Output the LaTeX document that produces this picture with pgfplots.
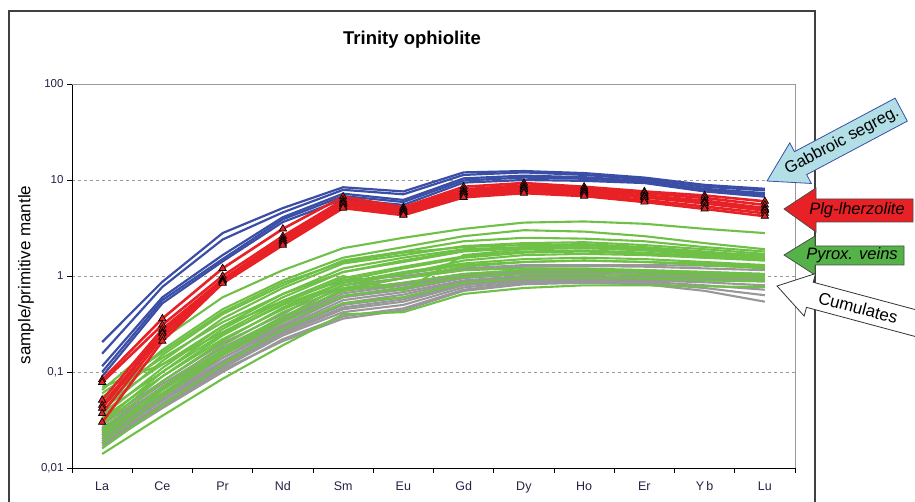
\documentclass[border=0pt]{standalone}
\usepackage{pgfplots}
\pgfplotsset{compat=1.18}
\usepackage{fontspec}
\setmainfont{Liberation Sans}
\definecolor{reeblue}{RGB}{58,78,166}
\definecolor{reered}{RGB}{232,33,38}
\definecolor{reegreen}{RGB}{110,192,70}
\definecolor{reegray}{RGB}{152,152,152}
\definecolor{lblue}{RGB}{178,222,230}
\definecolor{ticktext}{RGB}{35,35,70}
\definecolor{arrgreen}{RGB}{84,178,72}
\begin{document}
\begin{tikzpicture}
\path[use as bounding box] (0pt,0pt) rectangle (915pt,-502pt);
\draw[black!75, line width=1.1pt] (9pt,-11pt) rectangle (815pt,-530pt);
\node[font=\fontsize{18.5}{22}\selectfont\bfseries] at (412pt,-40pt) {Trinity ophiolite};
\node[rotate=90, font=\fontsize{17}{20}\selectfont] at (26pt,-275pt) {sample/primitive mantle};
\begin{axis}[at={(72pt,-84pt)}, anchor=north west, scale only axis,
  width=723pt, height=384pt,
  ymode=log, ymin=0.01, ymax=100, xmin=-0.5, xmax=11.5,
  axis x line*=bottom, axis y line*=left,
  axis line style={black, line width=0.8pt},
  tick align=outside,
  xtick={0,...,11},
  xticklabels={La,Ce,Pr,Nd,Sm,Eu,Gd,Dy,Ho,Er,Y\,b,Lu},
  major x tick style={draw=none},
  minor xtick={-0.5,0.5,...,11.5},
  minor tick length=5pt, major tick length=5pt,
  minor x tick style={black, line width=0.8pt},
  major y tick style={black, line width=0.8pt},
  ytick={0.01,0.1,1,10,100},
  yticklabels={{0,01},{0,1},1,10,100},
  yminorticks=false,
  ymajorgrids, major grid style={gray!80, dash pattern=on 3pt off 3pt, line width=0.8pt},
  xticklabel style={font=\fontsize{12.5}{14}\selectfont, text=ticktext, yshift=-5pt},
  yticklabel style={font=\fontsize{11.5}{13}\selectfont, text=ticktext},
  clip=false,
  gl/.style={reegreen, line width=2.1pt, no marks},
  cl/.style={reegray, line width=2.1pt, no marks},
  bl/.style={reeblue, line width=2.2pt, no marks},
  rl/.style={reered, line width=2.6pt, mark=triangle*, mark size=4.2pt,
     mark options={fill=reered, draw=black, line width=0.7pt, solid}},
]
% cumulates (gray)
\addplot[cl] coordinates {(0,0.030)(1,0.080)(2,0.20)(3,0.40)(4,0.90)(5,1.00)(6,1.20)(7,1.30)(8,1.30)(9,1.30)(10,1.28)(11,1.24)};
\addplot[cl] coordinates {(0,0.028)(1,0.075)(2,0.18)(3,0.37)(4,0.80)(5,0.95)(6,1.15)(7,1.25)(8,1.27)(9,1.25)(10,1.20)(11,1.15)};
\addplot[cl] coordinates {(0,0.026)(1,0.070)(2,0.17)(3,0.35)(4,0.72)(5,0.85)(6,1.05)(7,1.15)(8,1.17)(9,1.15)(10,1.10)(11,1.05)};
\addplot[cl] coordinates {(0,0.025)(1,0.065)(2,0.16)(3,0.33)(4,0.66)(5,0.80)(6,1.00)(7,1.10)(8,1.10)(9,1.08)(10,1.02)(11,0.98)};
\addplot[cl] coordinates {(0,0.024)(1,0.060)(2,0.15)(3,0.31)(4,0.60)(5,0.72)(6,0.95)(7,1.05)(8,1.05)(9,1.03)(10,0.98)(11,0.95)};
\addplot[cl] coordinates {(0,0.023)(1,0.058)(2,0.14)(3,0.29)(4,0.56)(5,0.68)(6,0.90)(7,1.00)(8,1.00)(9,0.98)(10,0.95)(11,0.92)};
\addplot[cl] coordinates {(0,0.022)(1,0.055)(2,0.13)(3,0.28)(4,0.52)(5,0.64)(6,0.88)(7,0.97)(8,0.98)(9,0.96)(10,0.93)(11,0.90)};
\addplot[cl] coordinates {(0,0.021)(1,0.052)(2,0.125)(3,0.27)(4,0.50)(5,0.60)(6,0.85)(7,0.95)(8,0.96)(9,0.95)(10,0.92)(11,0.89)};
\addplot[cl] coordinates {(0,0.020)(1,0.050)(2,0.12)(3,0.26)(4,0.47)(5,0.57)(6,0.82)(7,0.92)(8,0.93)(9,0.92)(10,0.90)(11,0.88)};
\addplot[cl] coordinates {(0,0.019)(1,0.047)(2,0.115)(3,0.25)(4,0.45)(5,0.54)(6,0.80)(7,0.90)(8,0.92)(9,0.90)(10,0.86)(11,0.80)};
\addplot[cl] coordinates {(0,0.018)(1,0.045)(2,0.11)(3,0.24)(4,0.42)(5,0.50)(6,0.76)(7,0.87)(8,0.89)(9,0.87)(10,0.80)(11,0.72)};
\addplot[cl] coordinates {(0,0.017)(1,0.042)(2,0.10)(3,0.22)(4,0.38)(5,0.46)(6,0.72)(7,0.84)(8,0.86)(9,0.84)(10,0.75)(11,0.63)};
\addplot[cl] coordinates {(0,0.018)(1,0.043)(2,0.105)(3,0.21)(4,0.36)(5,0.44)(6,0.70)(7,0.82)(8,0.85)(9,0.82)(10,0.70)(11,0.54)};
\addplot[cl] coordinates {(0,0.026)(1,0.068)(2,0.16)(3,0.34)(4,0.70)(5,0.82)(6,1.02)(7,1.12)(8,1.14)(9,1.12)(10,1.06)(11,1.00)};
\addplot[cl] coordinates {(0,0.022)(1,0.056)(2,0.14)(3,0.30)(4,0.62)(5,0.76)(6,0.98)(7,1.08)(8,1.10)(9,1.08)(10,1.03)(11,0.99)};
% pyroxenite veins (green)
\addplot[gl] coordinates {(0,0.065)(1,0.22)(2,0.60)(3,1.15)(4,1.95)(5,2.5)(6,3.1)(7,3.6)(8,3.7)(9,3.5)(10,3.1)(11,2.8)};
\addplot[gl] coordinates {(0,0.050)(1,0.17)(2,0.45)(3,0.90)(4,1.55)(5,2.0)(6,2.6)(7,3.0)(8,2.9)(9,2.6)(10,2.2)(11,1.9)};
\addplot[gl] coordinates {(0,0.045)(1,0.15)(2,0.40)(3,0.80)(4,1.45)(5,1.8)(6,2.3)(7,2.5)(8,2.45)(9,2.3)(10,2.0)(11,1.8)};
\addplot[gl] coordinates {(0,0.040)(1,0.13)(2,0.36)(3,0.75)(4,1.35)(5,1.65)(6,2.05)(7,2.2)(8,2.25)(9,2.1)(10,1.9)(11,1.7)};
\addplot[gl] coordinates {(0,0.060)(1,0.16)(2,0.42)(3,0.85)(4,1.40)(5,1.75)(6,2.0)(7,2.1)(8,2.15)(9,2.0)(10,1.8)(11,1.6)};
\addplot[gl] coordinates {(0,0.035)(1,0.11)(2,0.30)(3,0.65)(4,1.20)(5,1.55)(6,1.9)(7,2.0)(8,2.1)(9,1.95)(10,1.75)(11,1.55)};
\addplot[gl] coordinates {(0,0.030)(1,0.10)(2,0.28)(3,0.60)(4,1.10)(5,1.45)(6,1.85)(7,1.95)(8,2.0)(9,1.85)(10,1.65)(11,1.5)};
\addplot[gl] coordinates {(0,0.070)(1,0.12)(2,0.26)(3,0.55)(4,1.00)(5,0.70)(6,1.65)(7,1.9)(8,1.95)(9,1.85)(10,1.7)(11,1.6)};
\addplot[gl] coordinates {(0,0.028)(1,0.09)(2,0.24)(3,0.52)(4,0.95)(5,1.25)(6,1.6)(7,1.8)(8,1.85)(9,1.75)(10,1.6)(11,1.45)};
\addplot[gl] coordinates {(0,0.055)(1,0.14)(2,0.33)(3,0.65)(4,1.10)(5,1.4)(6,1.8)(7,1.95)(8,2.0)(9,1.9)(10,1.75)(11,1.65)};
\addplot[gl] coordinates {(0,0.033)(1,0.09)(2,0.22)(3,0.45)(4,0.80)(5,1.05)(6,1.45)(7,1.65)(8,1.7)(9,1.65)(10,1.55)(11,1.5)};
\addplot[gl] coordinates {(0,0.025)(1,0.08)(2,0.21)(3,0.47)(4,0.85)(5,1.1)(6,1.35)(7,1.5)(8,1.55)(9,1.5)(10,1.4)(11,1.3)};
\addplot[gl] coordinates {(0,0.022)(1,0.07)(2,0.19)(3,0.42)(4,0.75)(5,0.95)(6,1.15)(7,1.2)(8,1.2)(9,1.15)(10,1.1)(11,1.05)};
\addplot[gl] coordinates {(0,0.020)(1,0.065)(2,0.17)(3,0.38)(4,0.70)(5,0.85)(6,1.05)(7,1.15)(8,1.15)(9,1.1)(10,1.05)(11,1.0)};
\addplot[gl] coordinates {(0,0.018)(1,0.055)(2,0.15)(3,0.33)(4,0.62)(5,0.75)(6,0.98)(7,1.05)(8,1.05)(9,1.02)(10,0.98)(11,0.95)};
\addplot[gl] coordinates {(0,0.016)(1,0.045)(2,0.12)(3,0.28)(4,0.52)(5,0.60)(6,0.85)(7,0.95)(8,0.96)(9,0.94)(10,0.9)(11,0.88)};
\addplot[gl] coordinates {(0,0.014)(1,0.035)(2,0.085)(3,0.19)(4,0.40)(5,0.42)(6,0.65)(7,0.75)(8,0.80)(9,0.80)(10,0.78)(11,0.77)};
\addplot[gl] coordinates {(0,0.045)(1,0.12)(2,0.30)(3,0.55)(4,0.90)(5,1.2)(6,1.55)(7,1.75)(8,1.8)(9,1.7)(10,1.55)(11,1.45)};
\addplot[gl] coordinates {(0,0.038)(1,0.10)(2,0.25)(3,0.50)(4,0.85)(5,1.05)(6,1.3)(7,1.4)(8,1.45)(9,1.4)(10,1.3)(11,1.2)};
\addplot[gl] coordinates {(0,0.024)(1,0.06)(2,0.16)(3,0.36)(4,0.72)(5,0.95)(6,1.25)(7,1.4)(8,1.45)(9,1.4)(10,1.35)(11,1.25)};
% gabbroic segregations (blue)
\addplot[bl] coordinates {(0,0.205)(1,0.87)(2,2.8)(3,5.1)(4,8.4)(5,7.6)(6,12.0)(7,12.4)(8,11.8)(9,10.6)(10,8.9)(11,8.1)};
\addplot[bl] coordinates {(0,0.155)(1,0.77)(2,2.4)(3,4.6)(4,7.9)(5,7.1)(6,11.3)(7,12.0)(8,11.3)(9,10.2)(10,8.5)(11,7.8)};
\addplot[bl] coordinates {(0,0.115)(1,0.60)(2,1.65)(3,4.1)(4,7.2)(5,6.2)(6,10.4)(7,11.1)(8,10.7)(9,9.8)(10,8.1)(11,7.3)};
\addplot[bl] coordinates {(0,0.10)(1,0.56)(2,1.5)(3,3.9)(4,6.8)(5,5.9)(6,9.9)(7,10.6)(8,10.3)(9,9.6)(10,7.9)(11,7.0)};
\addplot[bl] coordinates {(0,0.09)(1,0.52)(2,1.42)(3,3.65)(4,6.3)(5,5.5)(6,9.4)(7,10.0)(8,9.8)(9,9.3)(10,7.6)(11,6.7)};
% plagioclase lherzolites (red)
\addplot[rl] coordinates {(0,0.083)(1,0.36)(2,1.20)(3,3.1)(4,6.7)(5,5.2)(6,8.5)(7,9.3)(8,8.5)(9,7.6)(10,6.9)(11,6.0)};
\addplot[rl] coordinates {(0,0.078)(1,0.31)(2,1.0)(3,2.6)(4,6.2)(5,5.0)(6,8.0)(7,8.8)(8,8.1)(9,7.3)(10,6.5)(11,5.5)};
\addplot[rl] coordinates {(0,0.051)(1,0.28)(2,0.92)(3,2.45)(4,5.9)(5,4.8)(6,7.6)(7,8.4)(8,7.8)(9,6.9)(10,6.1)(11,5.1)};
\addplot[rl] coordinates {(0,0.045)(1,0.26)(2,0.90)(3,2.35)(4,5.7)(5,4.7)(6,7.4)(7,8.2)(8,7.6)(9,6.8)(10,5.9)(11,4.95)};
\addplot[rl] coordinates {(0,0.042)(1,0.25)(2,0.89)(3,2.3)(4,5.6)(5,4.6)(6,7.2)(7,8.0)(8,7.4)(9,6.6)(10,5.7)(11,4.8)};
\addplot[rl] coordinates {(0,0.037)(1,0.23)(2,0.86)(3,2.2)(4,5.3)(5,4.4)(6,6.9)(7,7.6)(8,7.1)(9,6.2)(10,5.3)(11,4.5)};
\addplot[rl] coordinates {(0,0.030)(1,0.21)(2,0.84)(3,2.1)(4,5.1)(5,4.3)(6,6.6)(7,7.3)(8,6.8)(9,5.9)(10,5.0)(11,4.2)};
\end{axis}
\draw[gray!80, line width=0.8pt] (72pt,-84pt) -- (795pt,-84pt) -- (795pt,-468pt);
% arrows
\begin{scope}[shift={(767pt,-181pt)}, rotate=28, x=1pt, y=1pt]
\draw[fill=lblue, draw=reeblue, line width=0.8pt] (0,0) -- (38,23) -- (38,13) -- (152,13) -- (152,-13) -- (38,-13) -- (38,-23) -- cycle;
\node[rotate=28, inner sep=0pt, font=\fontsize{16.5}{19}\selectfont] at (85,0) {Gabbroic segreg.};
\end{scope}
\draw[fill=reered, draw=black!70, line width=0.8pt] (784pt,-209pt) -- (816pt,-188pt) -- (816pt,-199pt) -- (913pt,-199pt) -- (913pt,-222pt) -- (816pt,-222pt) -- (816pt,-232pt) -- cycle;
\node[inner sep=0pt, font=\fontsize{16.5}{19}\selectfont\itshape] at (857pt,-210pt) {Plg-lherzolite};
\draw[fill=arrgreen, draw=black!70, line width=0.8pt] (784pt,-255pt) -- (815pt,-236pt) -- (815pt,-246pt) -- (904pt,-246pt) -- (904pt,-265pt) -- (815pt,-265pt) -- (815pt,-275pt) -- cycle;
\node[inner sep=0pt, font=\fontsize{16.5}{19}\selectfont\itshape] at (852pt,-255pt) {Pyrox. veins};
\begin{scope}[shift={(777pt,-286pt)}, rotate=-15, x=1pt, y=1pt]
\draw[fill=white, draw=black!80, line width=0.8pt] (0,0) -- (34,22) -- (34,13) -- (200,13) -- (200,-13) -- (34,-13) -- (34,-22) -- cycle;
\node[rotate=-15, inner sep=0pt, font=\fontsize{17}{20}\selectfont] at (84,0) {Cumulates};
\end{scope}
\end{tikzpicture}
\end{document}
